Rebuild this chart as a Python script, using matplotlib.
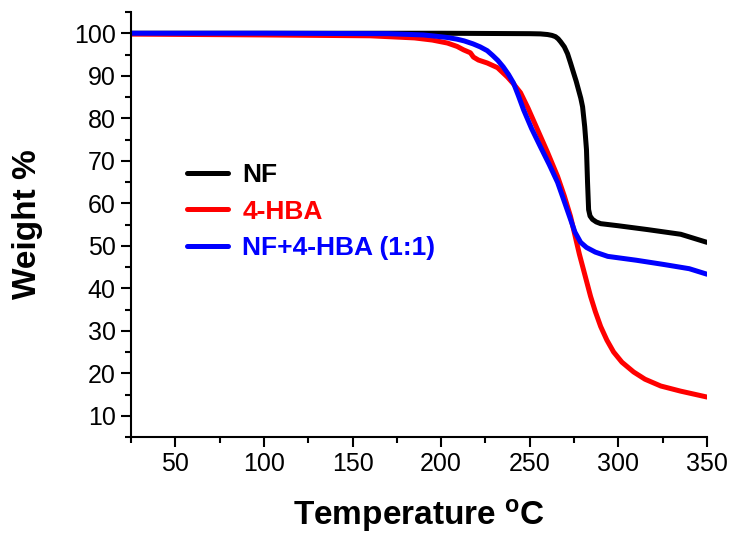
import matplotlib

matplotlib.use("Agg")
import matplotlib.pyplot as plt
from matplotlib.ticker import MultipleLocator

# Curvas TGA (temperatura en C, peso en %)
nf_t = [25, 100, 200, 250, 256, 260, 262.5, 264.5, 266, 267.4, 269.5, 271.3,
        273, 274.7, 276.2, 277.5, 278.8, 279.8, 281, 282, 282.6, 283.2, 284,
        285.4, 287.5, 290, 300, 316.5, 335.2, 350]
nf_w = [100, 100, 100, 99.9, 99.85, 99.7, 99.5, 99.2, 98.7, 98.0, 96.8, 95.2,
        93.0, 90.7, 88.7, 86.7, 84.7, 82.7, 78, 72.6, 64.9, 58.5, 57.0,
        56.2, 55.6, 55.2, 54.7, 53.8, 52.7, 50.8]

hba_t = [25, 100, 160, 185, 195, 203.5, 209, 212.6, 216.5, 218.2, 221, 226,
         231.8, 237.4, 241, 244.8, 249, 254.4, 260, 265.7, 269.5, 273, 278,
         284.3, 287, 290, 293.5, 297.3, 302, 308.6, 315, 323.9, 335, 350]
hba_w = [99.8, 99.6, 99.4, 98.9, 98.4, 97.7, 96.9, 96.1, 95.4, 94.4, 93.7,
         93.0, 91.9, 89.7, 88.0, 86.0, 82.4, 77.3, 72.0, 66.3, 61.7, 56.9,
         48, 38.1, 34.5, 31, 27.8, 25, 22.6, 20.3, 18.6, 17, 15.8, 14.4]

mix_t = [25, 100, 170, 190, 197, 203.5, 209, 213, 218, 222, 226, 229, 232,
         235, 238, 240.8, 243.5, 246.5, 251, 256, 261, 265.7, 270, 273, 275.5,
         278.7, 282, 287, 294, 310, 325.5, 340, 350]
mix_w = [100, 100, 99.9, 99.6, 99.3, 99.0, 98.6, 98.2, 97.5, 96.8, 95.9, 94.8,
         93.6, 92.1, 90.3, 88.3, 85.4, 82.0, 77.6, 73.3, 69.1, 64.9, 59.8,
         56.2, 53.2, 50.8, 49.6, 48.5, 47.5, 46.6, 45.6, 44.6, 43.3]

series = [
    ("NF", nf_t, nf_w, "black"),
    ("4-HBA", hba_t, hba_w, "#ff0000"),
    ("NF+4-HBA (1:1)", mix_t, mix_w, "#0000ff"),
]

plt.rcParams["font.family"] = ["Liberation Sans", "DejaVu Sans"]

fig = plt.figure(figsize=(7.31, 5.37), dpi=100)
ax = fig.add_axes([131 / 731, 100 / 537, 576 / 731, 425 / 537])

for label, t, w, color in series:
    ax.plot(t, w, color=color, lw=3.6, label=label,
            solid_capstyle="round", solid_joinstyle="round")

ax.set_xlim(25, 350)
ax.set_ylim(5, 105)
ax.xaxis.set_major_locator(MultipleLocator(50))
ax.xaxis.set_minor_locator(MultipleLocator(25))
ax.yaxis.set_minor_locator(MultipleLocator(5))
ax.set_yticks(range(10, 101, 10))

for side in ("top", "right"):
    ax.spines[side].set_visible(False)
for side in ("left", "bottom"):
    ax.spines[side].set_linewidth(1.5)
ax.tick_params(which="major", direction="out", length=7, width=1.5,
               labelsize=18, pad=4)
ax.tick_params(which="minor", direction="out", length=4, width=1.5)

ax.set_xlabel("Temperature $\\mathregular{^{o}}$C", fontsize=24,
              fontweight="bold", labelpad=15)
ax.set_ylabel("Weight %", fontsize=24, fontweight="bold", labelpad=22)

ax.legend(loc="upper left", bbox_to_anchor=(187 / 731, 1 - 163 / 537),
          bbox_transform=fig.transFigure, frameon=False,
          prop={"size": 19, "weight": "bold"}, labelcolor="linecolor",
          handlelength=1.55, handletextpad=0.55, labelspacing=0.48,
          borderpad=0, borderaxespad=0)

fig.savefig("out.png", dpi=100)
